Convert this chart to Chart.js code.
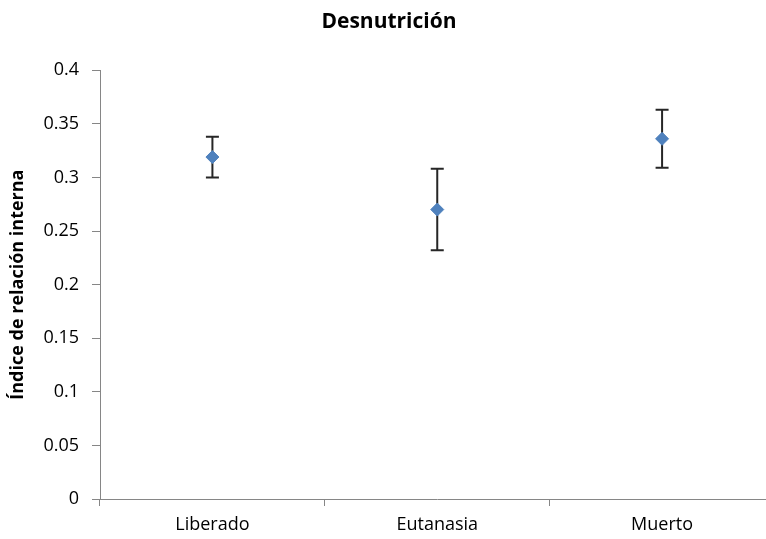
<!DOCTYPE html>
<html>
<head>
<meta charset="utf-8">
<script src="https://cdn.jsdelivr.net/npm/chart.js@4/dist/chart.umd.min.js"></script>
<style>
  html, body { margin: 0; padding: 0; background: #fff; overflow: hidden; }
</style>
</head>
<body>
<canvas id="grafico" width="782" height="539"></canvas>
<script>
// Datos
const categorias = ["Liberado", "Eutanasia", "Muerto"];
const medias = [0.319, 0.270, 0.336];
const errores = [0.019, 0.038, 0.027];
const ticksY = [0, 0.05, 0.1, 0.15, 0.2, 0.25, 0.3, 0.35, 0.4];

const gris = "#868686";
const fuente = "'Open Sans', sans-serif";

// Barras de error (dibujadas debajo de los marcadores)
const barrasError = {
  id: "barrasError",
  beforeDatasetsDraw(chart) {
    const ctx = chart.ctx;
    const x = chart.scales.x, y = chart.scales.y;
    ctx.save();
    ctx.strokeStyle = "#262626";
    ctx.lineWidth = 2;
    medias.forEach((m, i) => {
      const px = x.getPixelForValue(i);
      const top = y.getPixelForValue(m + errores[i]);
      const bot = y.getPixelForValue(m - errores[i]);
      ctx.beginPath();
      ctx.moveTo(px, top); ctx.lineTo(px, bot);
      ctx.moveTo(px - 6.5, top); ctx.lineTo(px + 6.5, top);
      ctx.moveTo(px - 6.5, bot); ctx.lineTo(px + 6.5, bot);
      ctx.stroke();
    });
    ctx.restore();
  }
};

new Chart(document.getElementById("grafico"), {
  type: "line",
  data: {
    labels: categorias,
    datasets: [{
      data: medias,
      showLine: false,
      pointStyle: "rectRot",
      pointRadius: 6.5,
      pointBackgroundColor: "#4F81BD",
      pointBorderColor: "#4F81BD",
      pointBorderWidth: 1
    }]
  },
  options: {
    responsive: false,
    animation: false,
    layout: { padding: { left: 0, right: 4, top: 0, bottom: 0 } },
    plugins: {
      legend: { display: false },
      tooltip: { enabled: false },
      title: {
        display: true,
        text: "Desnutrición",
        color: "#000",
        font: { family: fuente, size: 21, weight: "bold" },
        padding: { top: 9, bottom: 36 }
      }
    },
    scales: {
      x: {
        offset: true,
        grid: { offset: true, drawOnChartArea: false, tickLength: 7, tickColor: gris },
        border: { color: gris, width: 1 },
        ticks: { color: "#000", padding: 8, font: { family: fuente, size: 18 } },
        afterFit(s) { s.height = 40; }
      },
      y: {
        min: 0,
        max: 0.4,
        afterBuildTicks(s) { s.ticks = ticksY.map(v => ({ value: v })); },
        grid: { drawOnChartArea: false, tickLength: 8, tickColor: gris },
        border: { color: gris, width: 1 },
        ticks: {
          color: "#000",
          padding: 13,
          font: { family: fuente, size: 18 },
          callback: v => String(+v.toFixed(2))
        },
        title: {
          display: true,
          text: "Índice de relación interna",
          color: "#000",
          font: { family: fuente, size: 18, weight: "bold" },
          padding: { top: 7, bottom: 0 }
        },
        afterFit(s) { s.width = 100; }
      }
    }
  },
  plugins: [barrasError]
});
</script>
</body>
</html>
